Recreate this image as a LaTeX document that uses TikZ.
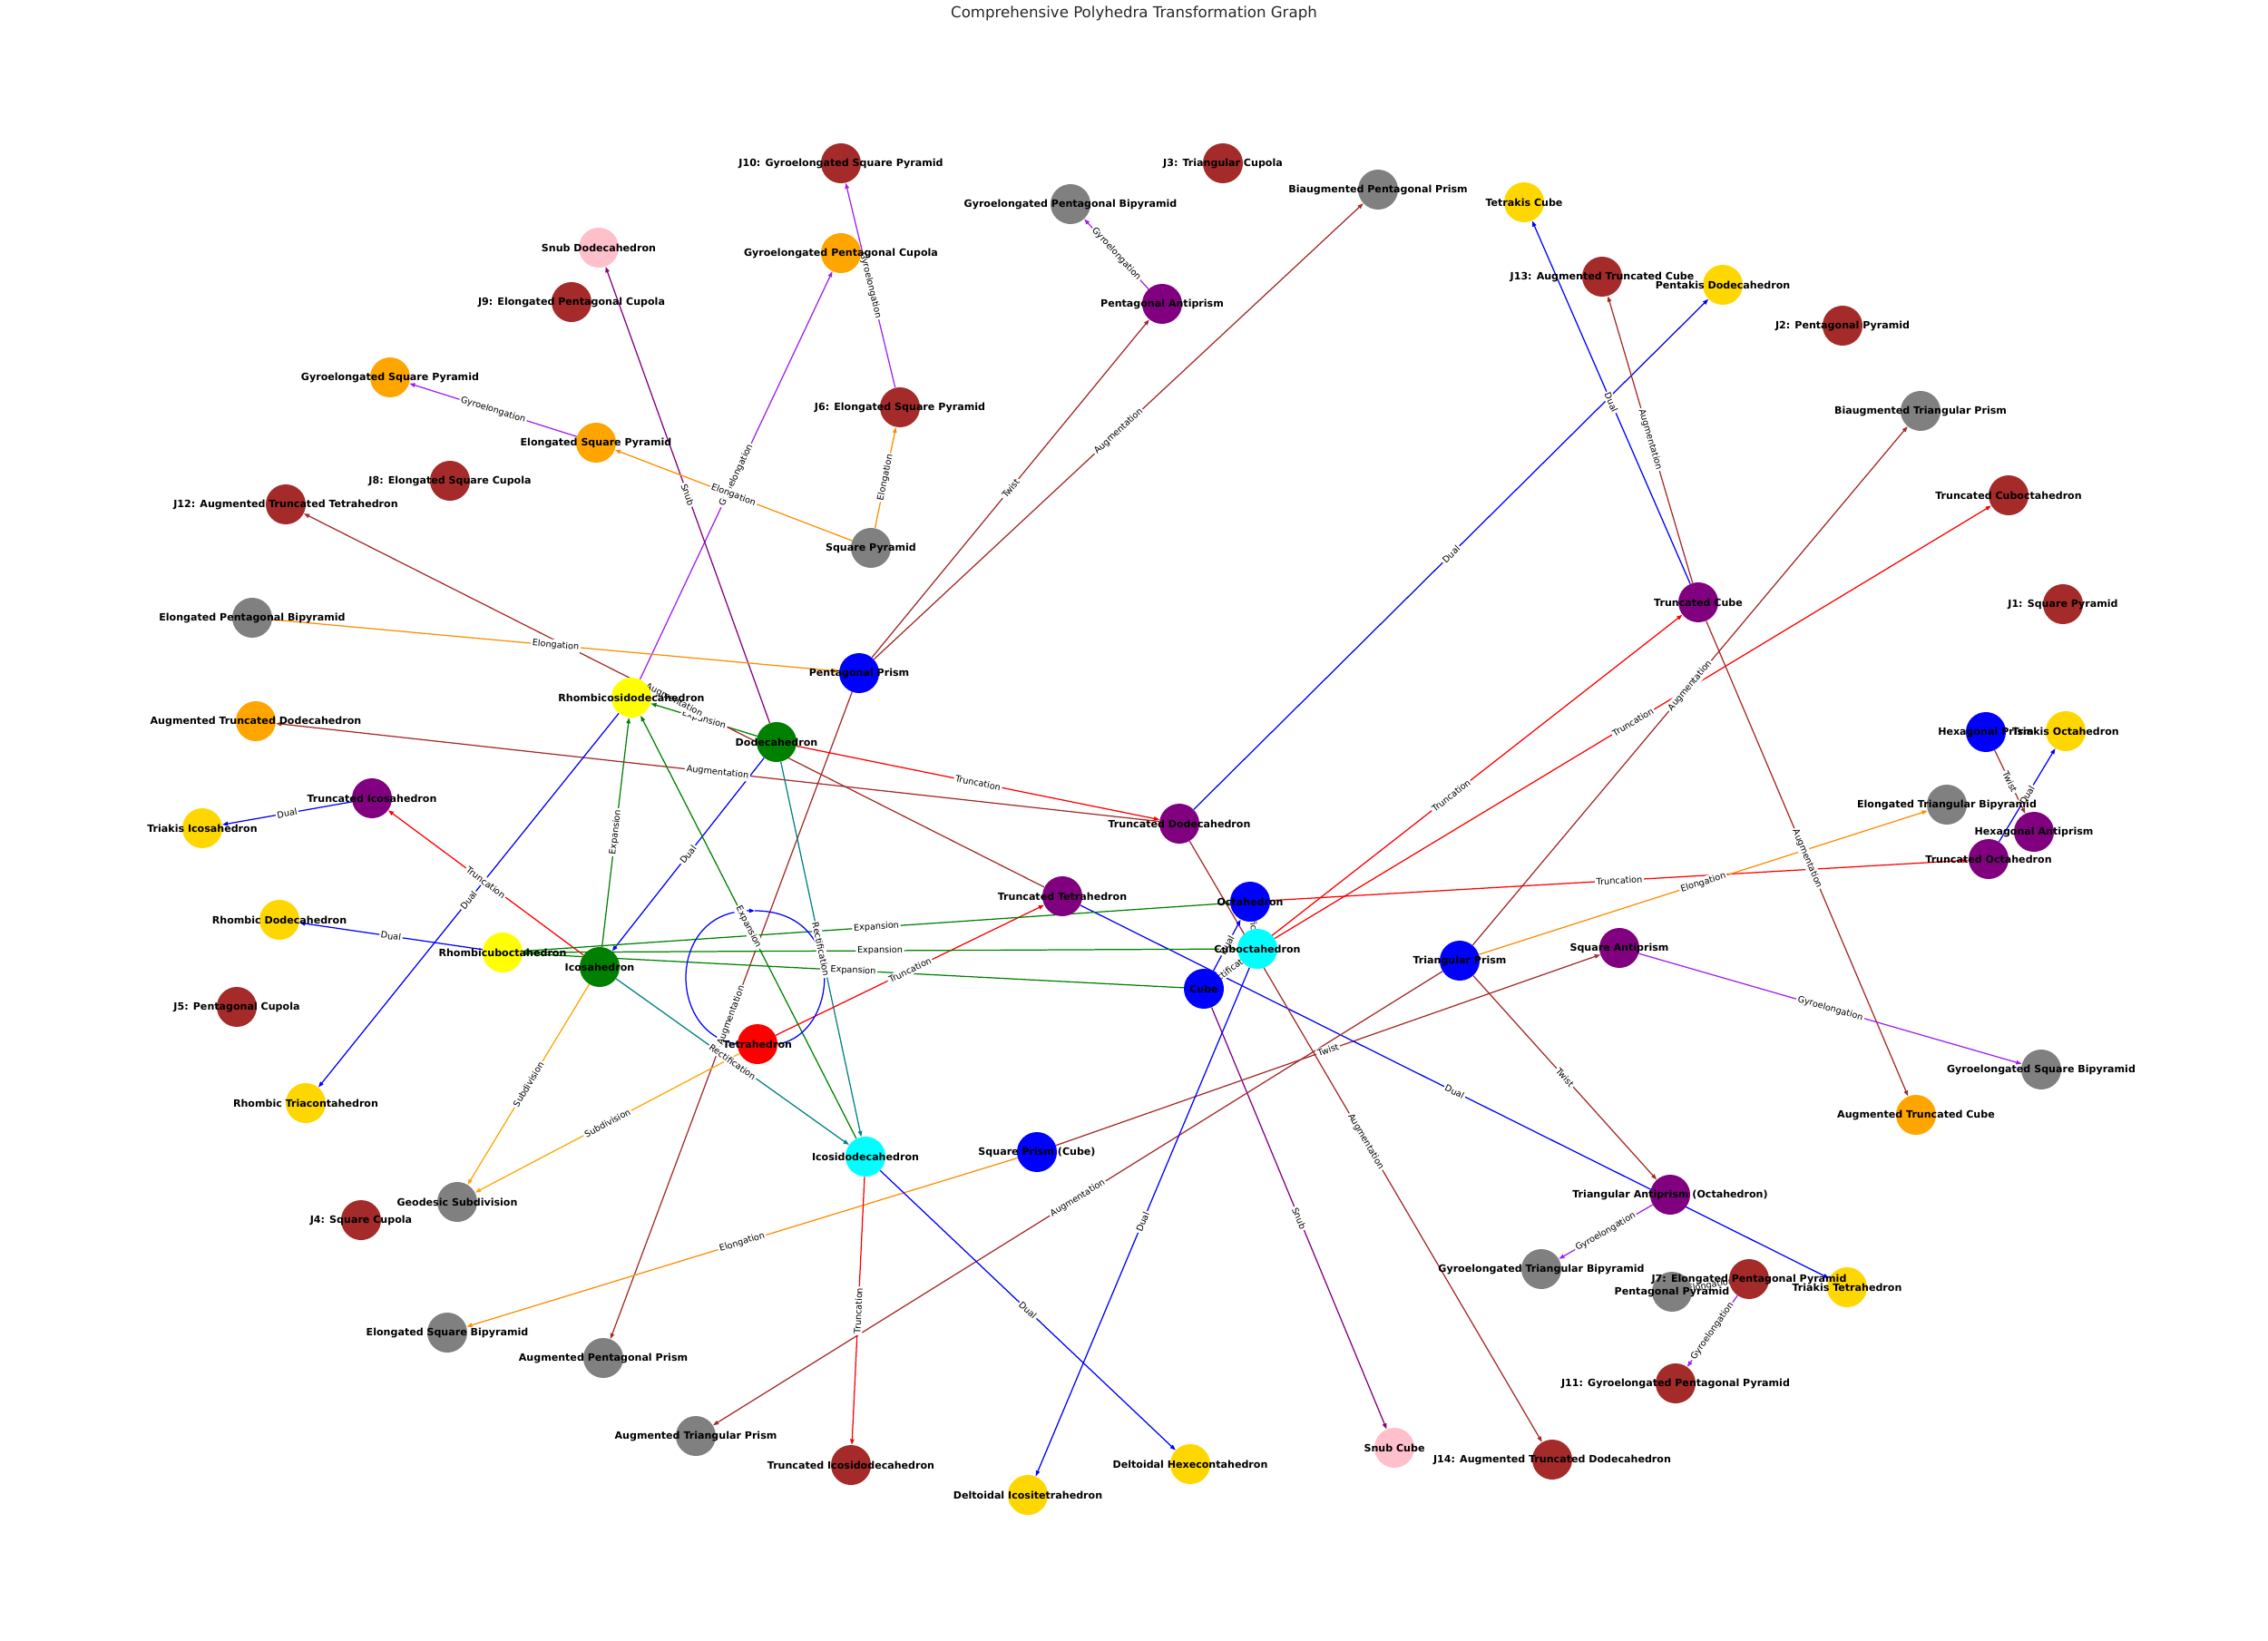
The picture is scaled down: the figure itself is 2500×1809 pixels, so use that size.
\documentclass[tikz,border=0pt]{standalone}
\usepackage{fontspec}
\setmainfont{DejaVu Sans}
\usepackage{tikz}
\usetikzlibrary{arrows.meta}
\usepackage{xcolor}
% node fills
\definecolor{pblue}{RGB}{0,0,255}
\definecolor{pgreen}{RGB}{0,128,0}
\definecolor{pred}{RGB}{255,0,0}
\definecolor{pcyan}{RGB}{0,255,255}
\definecolor{pyellow}{RGB}{255,255,0}
\definecolor{ppurple}{RGB}{128,0,128}
\definecolor{pgold}{RGB}{255,215,0}
\definecolor{pgray}{RGB}{128,128,128}
\definecolor{porange}{RGB}{255,165,0}
\definecolor{pbrown}{RGB}{165,42,42}
\definecolor{ppink}{RGB}{255,192,203}
% connector colours
\definecolor{cdual}{RGB}{0,0,255}
\definecolor{ctrunc}{RGB}{255,0,0}
\definecolor{cexpand}{RGB}{0,128,0}
\definecolor{crect}{RGB}{0,128,128}
\definecolor{caug}{RGB}{165,42,42}
\definecolor{celong}{RGB}{255,140,0}
\definecolor{csubdiv}{RGB}{255,165,0}
\definecolor{cgyro}{RGB}{160,32,240}
\definecolor{csnub}{RGB}{128,0,128}
\pgfdeclarelayer{edgelayer}
\pgfsetlayers{edgelayer,main}

\def\polylist{
snubdodeca/660/273/ppink/Snub Dodecahedron,
jnine/630/333/pbrown/J9: Elongated Pentagonal Cupola,
gsqpyr/430/416/porange/Gyroelongated Square Pyramid,
esqpyr/657/488/porange/Elongated Square Pyramid,
jeight/496/530/pbrown/J8: Elongated Square Cupola,
jtwelve/315/556/pbrown/J12: Augmented Truncated Tetrahedron,
jten/927/180/pbrown/J10: Gyroelongated Square Pyramid,
gpcup/927/279/porange/Gyroelongated Pentagonal Cupola,
jthree/1348/180/pbrown/J3: Triangular Cupola,
gpbip/1180/225/pgray/Gyroelongated Pentagonal Bipyramid,
bapprism/1519/209/pgray/Biaugmented Pentagonal Prism,
pantiprism/1281/335/ppurple/Pentagonal Antiprism,
jsix/992/449/pbrown/J6: Elongated Square Pyramid,
sqpyr/960/604/pgray/Square Pyramid,
tetrakis/1680/223/pgold/Tetrakis Cube,
jthirteen/1766/305/pbrown/J13: Augmented Truncated Cube,
pentakis/1899/314/pgold/Pentakis Dodecahedron,
jtwo/2031/359/pbrown/J2: Pentagonal Pyramid,
batprism/2117/453/pgray/Biaugmented Triangular Prism,
trcuboct/2214/546/pbrown/Truncated Cuboctahedron,
epbip/278/681/pgray/Elongated Pentagonal Bipyramid,
rid/696/769/pyellow/Rhombicosidodecahedron,
atdodeca/282/795/porange/Augmented Truncated Dodecahedron,
dodeca/856/818/pgreen/Dodecahedron,
trico/410/880/ppurple/Truncated Icosahedron,
triakisico/223/913/pgold/Triakis Icosahedron,
rhdodeca/308/1014/pgold/Rhombic Dodecahedron,
rco/554/1050/pyellow/Rhombicuboctahedron,
icosa/661/1066/pgreen/Icosahedron,
jfive/261/1110/pbrown/J5: Pentagonal Cupola,
tetra/835/1151/pred/Tetrahedron,
rhtria/337/1216/pgold/Rhombic Triacontahedron,
pprism/947/742/pblue/Pentagonal Prism,
trdodeca/1300/908/ppurple/Truncated Dodecahedron,
trtet/1171/988/ppurple/Truncated Tetrahedron,
octa/1378/994/pblue/Octahedron,
cubocta/1386/1046/pcyan/Cuboctahedron,
cube/1327/1090/pblue/Cube,
tprism/1609/1059/pblue/Triangular Prism,
trcube/1872/664/ppurple/Truncated Cube,
jone/2274/666/pbrown/J1: Square Pyramid,
hprism/2189/807/pblue/Hexagonal Prism,
triakisocta/2277/806/pgold/Triakis Octahedron,
etbip/2146/887/pgray/Elongated Triangular Bipyramid,
hantiprism/2242/917/ppurple/Hexagonal Antiprism,
trocta/2192/947/ppurple/Truncated Octahedron,
sqantiprism/1785/1045/ppurple/Square Antiprism,
gsqbip/2250/1179/pgray/Gyroelongated Square Bipyramid,
geodesic/504/1325/pgray/Geodesic Subdivision,
jfour/398/1345/pbrown/J4: Square Cupola,
esqbip/493/1469/pgray/Elongated Square Bipyramid,
apprism/665/1497/pgray/Augmented Pentagonal Prism,
atprism/767/1583/pgray/Augmented Triangular Prism,
icosido/954/1275/pcyan/Icosidodecahedron,
sqprism/1143/1270/pblue/Square Prism (Cube),
tricosido/938/1615/pbrown/Truncated Icosidodecahedron,
deltoicosi/1133/1648/pgold/Deltoidal Icositetrahedron,
deltohexe/1312/1614/pgold/Deltoidal Hexecontahedron,
snubcube/1537/1596/ppink/Snub Cube,
atcube/2112/1229/porange/Augmented Truncated Cube,
tantiprism/1841/1317/ppurple/Triangular Antiprism (Octahedron),
gtbip/1699/1399/pgray/Gyroelongated Triangular Bipyramid,
jseven/1928/1410/pbrown/J7: Elongated Pentagonal Pyramid,
ppyr/1843/1424/pgray/Pentagonal Pyramid,
triakistet/2036/1419/pgold/Triakis Tetrahedron,
jeleven/1847/1525/pbrown/J11: Gyroelongated Pentagonal Pyramid,
jfourteen/1711/1609/pbrown/J14: Augmented Truncated Dodecahedron}

\def\edgelist{
rid/gpcup/gyroedge/Gyroelongation,
dodeca/rid/expandedge/Expansion,
dodeca/snubdodeca/snubedge/Snub,
cube/snubcube/snubedge/Snub,
esqpyr/gsqpyr/gyroedge/Gyroelongation,
sqpyr/esqpyr/elongedge/Elongation,
sqpyr/jsix/elongedge/Elongation,
jsix/jten/gyroedge/Gyroelongation,
pantiprism/gpbip/gyroedge/Gyroelongation,
pprism/pantiprism/twistedge/Twist,
pprism/bapprism/augedge/Augmentation,
trdodeca/pentakis/dualedge/Dual,
trcube/tetrakis/dualedge/Dual,
trcube/jthirteen/augedge/Augmentation,
tprism/batprism/augedge/Augmentation,
cubocta/trcuboct/truncedge/Truncation,
cube/trcube/truncedge/Truncation,
octa/trocta/truncedge/Truncation,
tprism/etbip/elongedge/Elongation,
hprism/hantiprism/twistedge/Twist,
trocta/triakisocta/dualedge/Dual,
sqprism/sqantiprism/twistedge/Twist,
sqantiprism/gsqbip/gyroedge/Gyroelongation,
trcube/atcube/augedge/Augmentation,
tprism/tantiprism/twistedge/Twist,
trtet/triakistet/dualedge/Dual,
tantiprism/gtbip/gyroedge/Gyroelongation,
ppyr/jseven/elongedge/Elongation,
jseven/jeleven/gyroedge/Gyroelongation,
trdodeca/jfourteen/augedge/Augmentation,
tprism/atprism/augedge/Augmentation,
pprism/apprism/augedge/Augmentation,
trtet/jtwelve/augedge/Augmentation,
trdodeca/atdodeca/augedge/Augmentation,
epbip/pprism/elongedge/Elongation,
rid/rhtria/dualedge/Dual,
icosa/trico/truncedge/Truncation,
trico/triakisico/dualedge/Dual,
rco/rhdodeca/dualedge/Dual,
icosa/rid/expandedge/Expansion,
dodeca/icosa/dualedge/Dual,
icosido/rid/expandedge/Expansion,
icosa/icosido/rectedge/Rectification,
dodeca/icosido/rectedge/Rectification,
dodeca/trdodeca/truncedge/Truncation,
tetra/trtet/truncedge/Truncation,
icosa/geodesic/subdivedge/Subdivision,
tetra/geodesic/subdivedge/Subdivision,
sqprism/esqbip/elongedge/Elongation,
icosido/tricosido/truncedge/Truncation,
icosido/deltohexe/dualedge/Dual,
cubocta/deltoicosi/dualedge/Dual,
cube/octa/dualedge/Dual,
cube/cubocta/rectedge/Rectification,
octa/cubocta/rectedge/Rectification,
octa/rco/expandedge/Expansion,
cubocta/rco/expandedge/Expansion,
cube/rco/expandedge/Expansion}

\begin{document}
\begin{tikzpicture}[x=0.01in,y=-0.01in,
  poly/.style={circle,minimum size=0.44in,inner sep=0pt,draw=none},
  polylabel/.style={font=\fontsize{8}{9.6}\selectfont\bfseries,inner sep=0pt},
  elabel/.style={midway,sloped,fill=white,rounded corners=1.5pt,inner sep=1.2pt,
    font=\fontsize{7}{8.4}\selectfont},
  conn/.style={line width=0.9pt,-{Triangle[length=4.5pt,width=3.2pt]}},
  dualedge/.style={conn,cdual},
  truncedge/.style={conn,ctrunc},
  expandedge/.style={conn,cexpand},
  rectedge/.style={conn,crect},
  augedge/.style={conn,caug},
  twistedge/.style={conn,caug},
  elongedge/.style={conn,celong},
  subdivedge/.style={conn,csubdiv},
  gyroedge/.style={conn,cgyro},
  snubedge/.style={conn,csnub}]
\useasboundingbox (0,0) rectangle (2500,1809);
\node[font=\fontsize{12}{14}\selectfont,text=black!85] (title) at (1250,15)
  {Comprehensive Polyhedra Transformation Graph};
% circles first, labels go on top later
\foreach \nm/\px/\py/\col/\txt in \polylist {
\node[poly,fill=\col] (\nm) at (\px,\py) {};
}
\begin{pgfonlayer}{edgelayer}
\foreach \src/\dst/\kind/\lab in \edgelist {
\draw[\kind] (\src) -- (\dst);
}
% tetrahedron is self-dual
\coordinate (looptop) at (832,1004);
\draw[dualedge] (tetra.west) .. controls (735,1140) and (735,1004) .. (looptop);
\draw[dualedge,-] (looptop) .. controls (935,1004) and (925,1140) .. (tetra.east);
\foreach \src/\dst/\kind/\lab in \edgelist {
\path (\src) -- (\dst) node[elabel] {\lab};
}
\end{pgfonlayer}
\foreach \nm/\px/\py/\col/\txt in \polylist {
\node[polylabel] (\nm-t) at (\nm) {\txt};
}
\end{tikzpicture}
\end{document}
